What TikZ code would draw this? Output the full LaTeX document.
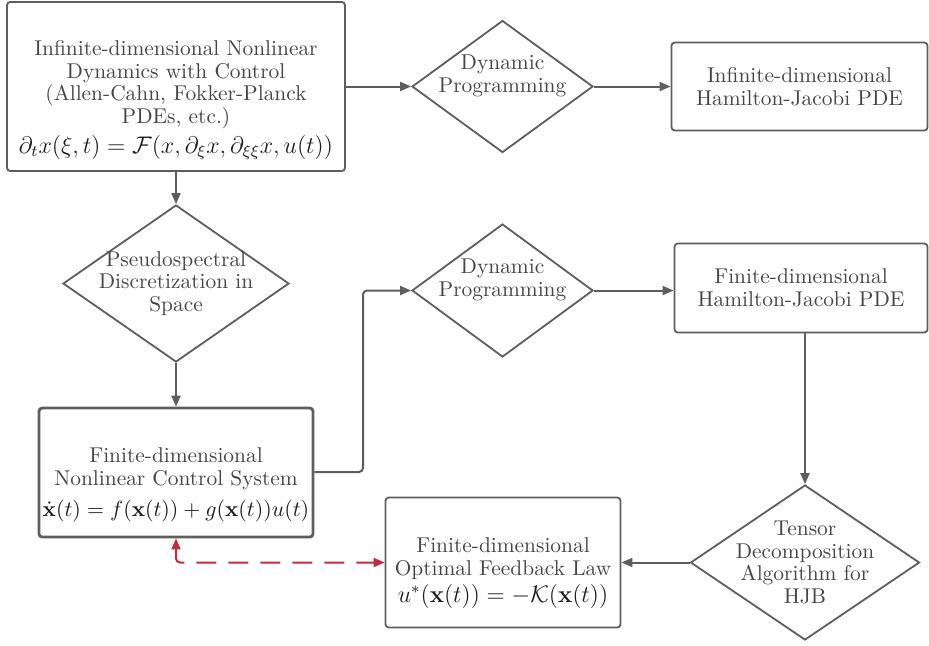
\documentclass[tikz,border=0pt]{standalone}
\usepackage{amsmath}
\usepackage{amssymb}
\usepackage{tikz}
\usetikzlibrary{positioning}
\usetikzlibrary{shapes.geometric}
\usetikzlibrary{arrows.meta}

\definecolor{linegray}{HTML}{5E5E5E}
\definecolor{textgray}{HTML}{454545}
\definecolor{mathgray}{HTML}{1C1C1C}
\definecolor{dashred}{HTML}{C8293B}

\begin{document}
\begin{tikzpicture}[x=0.5pt, y=-0.5pt,
        boxnode/.style={rectangle, rounded corners=1.6pt, draw=linegray, line width=0.9pt, fill=white, align=center, text=textgray, font=\fontsize{10.7}{11.4}\selectfont, inner sep=0pt},
        decnode/.style={diamond, draw=linegray, line width=0.9pt, fill=white, inner sep=0pt},
        dectext/.style={align=center, text=textgray, font=\fontsize{10.7}{11.4}\selectfont},
        flow/.style={draw=linegray, line width=1pt, -{Triangle[length=5.5pt,width=4.5pt]}},
        feedflow/.style={draw=dashred, line width=1pt, dash pattern=on 10pt off 6pt, {Triangle[length=5.5pt,width=4.5pt]}-{Triangle[length=5.5pt,width=4.5pt]}}]
        \useasboundingbox (0,0) rectangle (929,645);

        \node[boxnode, minimum width=169pt, minimum height=84.5pt]  (infdyn)   at (176,86.5)
            {\rule{0pt}{21pt}Infinite-dimensional Nonlinear\\Dynamics with Control\\(Allen-Cahn, Fokker-Planck\\PDEs, etc.)\\[2pt]
             {\fontsize{11.8}{13}\selectfont\color{mathgray}$\partial_t x(\xi,t)=\mathcal{F}(x,\partial_\xi x,\partial_{\xi\xi}x,u(t))$}};
        \node[decnode, minimum width=90.5pt, minimum height=66pt, label={[dectext, yshift=5.5pt]center:Dynamic\\Programming}] (dynprog)  at (502.5,86.5) {};
        \node[boxnode, minimum width=128pt, minimum height=44pt] (infhjb)   at (799.5,86.5)
            {Infinite-dimensional\\Hamilton-Jacobi PDE};

        \node[decnode, minimum width=113pt, minimum height=78.5pt, label={[dectext]center:Pseudospectral\\Discretization in\\Space}] (pseudo) at (176,283.5) {};
        \node[decnode, minimum width=90.5pt, minimum height=66.5pt, label={[dectext, yshift=5.5pt]center:Dynamic\\Programming}] (dynprogb) at (502.5,290.5) {};
        \node[boxnode, minimum width=126.5pt, minimum height=44.5pt]   (finhjb)   at (801,288)
            {Finite-dimensional\\Hamilton-Jacobi PDE};

        \node[boxnode, line width=1.4pt, minimum width=137pt, minimum height=64.5pt] (findyn) at (176,472.5)
            {\rule{0pt}{20pt}Finite-dimensional\\Nonlinear Control System\\[4pt]
             {\fontsize{10.6}{12}\selectfont\color{mathgray}$\dot{\mathbf{x}}(t)=f(\mathbf{x}(t))+g(\mathbf{x}(t))u(t)$}};
        \node[boxnode, minimum width=117.5pt, minimum height=65pt]  (feedback) at (503,562.5)
            {\rule{0pt}{18pt}Finite-dimensional\\Optimal Feedback Law\\[2pt]
             {\fontsize{11.5}{13}\selectfont\color{mathgray}$u^*(\mathbf{x}(t))=-\mathcal{K}(\mathbf{x}(t))$}};
        \node[decnode, minimum width=114.5pt, minimum height=77.5pt, label={[dectext]center:Tensor\\Decomposition\\Algorithm for\\HJB}] (tensor) at (805,562.5) {};

        \coordinate (turn) at (363,290.5);

        \draw[flow] (infdyn) -- (dynprog);
        \draw[flow] (dynprog) -- (infhjb);
        \draw[flow] (infdyn) -- (pseudo);
        \draw[flow] (pseudo) -- (findyn);
        \draw[flow, rounded corners=2pt] (findyn.east |- 0,472) -| (turn) -- (dynprogb.west);
        \draw[flow] (dynprogb) -- (dynprogb -| finhjb.west);
        \draw[flow] (finhjb.south -| tensor.north) -- (tensor.north);
        \draw[flow] (tensor) -- (feedback);
        \draw[feedflow, rounded corners=2pt] (findyn.south) |- (feedback.west);

    \end{tikzpicture}
\end{document}
